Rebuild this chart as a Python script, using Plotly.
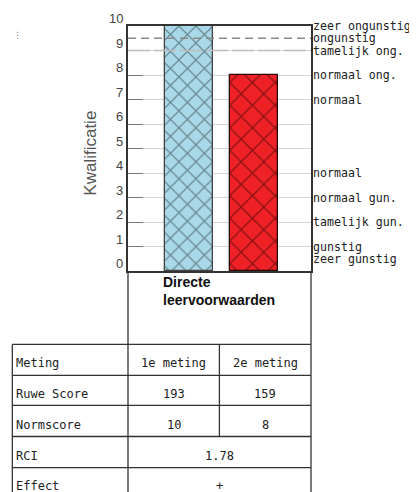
import plotly.graph_objects as go

# ---------------- data ----------------
metingen = ["1e meting", "2e meting"]
normscore = [10, 8]
ruwe_score = [193, 159]
rci = "1.78"
effect = "+"
categorie = "Directe<br>leervoorwaarden"
row_labels = ["Meting", "Ruwe Score", "Normscore", "RCI", "Effect"]
y_ticks = [0, 1, 2, 3, 4, 5, 6, 7, 8, 9, 10]
kwal_labels = ["zeer ongunstig", "ongunstig", "tamelijk ong.", "normaal ong.", "normaal",
               "normaal", "normaal gun.", "tamelijk gun.", "gunstig", "zeer gunstig"]
kwal_levels = [10, 9.5, 9, 8, 7, 4, 3, 2, 1, 0.5]
grens_levels = [9.5, 9]

# ---------------- layout constants ----------------
OFF = 8  # page body margin
W, H = 417 - OFF, 492 - OFF
# plot area in page pixels
PL, PR, PT, PB = 127.5, 310.7, 26, 270.7
ML, MR, MT, MB = PL - OFF, (W + OFF) - PR, PT - OFF, (H + OFF) - PB
PW = PR - PL
PH = PB - PT
MONO = "DejaVu Sans Mono"
SANS = "Liberation Sans"
LINE = "#333333"


def px(x):
    return (x - PL) / PW


def py(y):
    return (PB - y) / PH


fills = ["#a9d9e8", "#ee2226"]
hatch = ["#2e3c42", "#2a0000"]
outl = ["#444444", "#2a0808"]
hsize = [12, 16]
solid = [0.2, 0.15]

fig = go.Figure()
for i, m in enumerate(metingen):
    fig.add_trace(go.Bar(
        x=[m], y=[normscore[i]], width=0.745,
        marker=dict(color=fills[i],
                    line=dict(color=outl[i], width=1.3),
                    pattern=dict(shape="x", fgcolor=hatch[i], bgcolor=fills[i],
                                 size=hsize[i], solidity=solid[i], fillmode="overlay")),
        hoverinfo="skip", showlegend=False))

shapes = []
# dashed boundary lines
dash_styles = [("8px,5px", "#8a8a8a"), ("22px,4px", "#bdbdbd")]
for lvl, (d, c) in zip(grens_levels, dash_styles):
    shapes.append(dict(type="line", xref="paper", yref="y", x0=0, x1=1, y0=lvl, y1=lvl,
                       line=dict(color=c, width=1.5, dash=d), layer="above"))


def hline(x0, x1, y):
    shapes.append(dict(type="line", xref="paper", yref="paper", x0=px(x0), x1=px(x1),
                       y0=py(y), y1=py(y), line=dict(color=LINE, width=1.3)))


def vline(x, y0, y1):
    shapes.append(dict(type="line", xref="paper", yref="paper", x0=px(x), x1=px(x),
                       y0=py(y0), y1=py(y1), line=dict(color=LINE, width=1.3)))


tab_left, col1, divider, right = 11.7, PL, 219, PR
row_lines = [344, 375, 405, 436, 467]
row_text_y = [363, 394, 425, 455, 485]
for y in row_lines:
    hline(tab_left, right, y)
vline(tab_left, 344, 500)
vline(col1, PB, 500)
vline(right, PB, 500)
vline(divider, 344, 436)

ann = []
# left tick labels
for t in y_ticks:
    ann.append(dict(xref="paper", yref="y", x=0, y=t, xshift=-3, yshift=-2,
                    xanchor="right", yanchor="bottom", text=str(t), showarrow=False,
                    font=dict(family=SANS, size=13, color="#444444")))
# right qualification labels
for lbl, lvl in zip(kwal_labels, kwal_levels):
    ann.append(dict(xref="paper", yref="y", x=1, y=lvl, xshift=1, borderpad=0,
                    xanchor="left", yanchor="middle", text=lbl, showarrow=False,
                    font=dict(family=MONO, size=11.6, color="#222222")))
# y title
ann.append(dict(xref="paper", yref="paper", x=px(90), y=py(153), text="Kwalificatie",
                textangle=-90, showarrow=False, xanchor="center", yanchor="middle",
                font=dict(family=SANS, size=17, color="#555555")))
# category label
ann.append(dict(xref="paper", yref="paper", x=px(161), y=py(272), text=f"<b>{categorie}</b>",
                showarrow=False, xanchor="left", yanchor="top", align="left",
                font=dict(family=SANS, size=14, color="#111111")))
# small mark top-left
ann.append(dict(xref="paper", yref="paper", x=px(10), y=py(28), text="⋮", showarrow=False,
                font=dict(family="DejaVu Sans", size=9, color="#888888")))

# table text
col_centers = [(col1 + divider) / 2, (divider + right) / 2]
mid = (col1 + right) / 2


def ttext(x, y, s, anchor="center"):
    ann.append(dict(xref="paper", yref="paper", x=px(x), y=py(y), text=s, showarrow=False,
                    xanchor=anchor, yanchor="middle",
                    font=dict(family=MONO, size=12, color="#222222")))


for lbl, y in zip(row_labels, row_text_y):
    ttext(13, y, lbl, "left")
for i in range(2):
    ttext(col_centers[i], row_text_y[0], metingen[i])
    ttext(col_centers[i], row_text_y[1], str(ruwe_score[i]))
    ttext(col_centers[i], row_text_y[2], str(normscore[i]))
ttext(mid, row_text_y[3], rci)
ttext(mid, row_text_y[4], effect)

fig.update_layout(
    width=W, height=H, margin=dict(l=ML, r=MR, t=MT, b=MB, pad=0),
    paper_bgcolor="white", plot_bgcolor="white",
    xaxis=dict(type="category", range=[-0.94, 1.872], showticklabels=False, ticks="",
               showgrid=False, zeroline=False, showline=True, mirror=True,
               linecolor=LINE, linewidth=1.5, fixedrange=True),
    yaxis=dict(range=[0, 10], tickvals=y_ticks, showticklabels=False, ticks="inside",
               ticklen=15, tickcolor="#777777", tickwidth=1, showgrid=True,
               gridcolor="#d4d4d4", gridwidth=1, zeroline=False, showline=True,
               mirror=True, linecolor=LINE, linewidth=1.5, fixedrange=True),
    shapes=shapes, annotations=ann, bargap=0,
)

fig.write_html("out.html", config={"displayModeBar": False})
